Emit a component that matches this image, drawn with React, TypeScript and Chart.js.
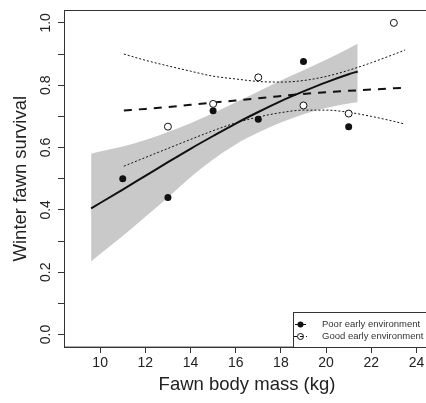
import { useEffect, useRef } from "react";
import { Chart, registerables } from "chart.js";

Chart.register(...registerables);

// ---- data ----
const X_TICKS = [10, 12, 14, 16, 18, 20, 22, 24];
const Y_TICKS = [0, 0.1, 0.2, 0.3, 0.4, 0.5, 0.6, 0.7, 0.8, 0.9, 1.0];
const Y_TICK_LABELS = ["0.0", "", "0.2", "", "0.4", "", "0.6", "", "0.8", "", "1.0"];

const POOR_MASS = [11, 13, 15, 17, 19, 21];
const POOR_SURV = [0.5, 0.44, 0.718, 0.691, 0.876, 0.667];
const GOOD_MASS = [13, 15, 17, 19, 21, 23];
const GOOD_SURV = [0.667, 0.74, 0.825, 0.735, 0.709, 1.0];

const POOR_FIT_MASS = [9.6, 10, 11, 12, 13, 14, 15, 16, 17, 18, 19, 20, 21, 21.4];
const POOR_FIT = [0.405, 0.422, 0.465, 0.509, 0.553, 0.596, 0.637, 0.677, 0.714, 0.749, 0.78, 0.809, 0.835, 0.844];
const POOR_UPPER = [0.58, 0.587, 0.603, 0.624, 0.65, 0.678, 0.71, 0.745, 0.78, 0.815, 0.848, 0.882, 0.918, 0.933];
const POOR_LOWER = [0.234, 0.258, 0.316, 0.378, 0.44, 0.505, 0.562, 0.61, 0.648, 0.68, 0.707, 0.727, 0.741, 0.745];

const GOOD_FIT_MASS = [11.05, 12, 13, 14, 15, 16, 17, 18, 19, 20, 21, 22, 23, 23.5];
const GOOD_FIT = [0.719, 0.724, 0.73, 0.737, 0.744, 0.751, 0.758, 0.765, 0.772, 0.777, 0.782, 0.786, 0.79, 0.792];
const GOOD_UPPER = [0.9, 0.88, 0.862, 0.845, 0.829, 0.82, 0.812, 0.81, 0.815, 0.828, 0.848, 0.872, 0.899, 0.913];
const GOOD_LOWER = [0.54, 0.568, 0.597, 0.626, 0.654, 0.679, 0.698, 0.712, 0.72, 0.72, 0.713, 0.7, 0.684, 0.675];

const LEGEND_LABELS = ["Poor early environment", "Good early environment"];
const X_TITLE = "Fawn body mass (kg)";
const Y_TITLE = "Winter fawn survival";

const pts = (xs: number[], ys: number[]) => xs.map((x, i) => ({ x, y: ys[i] }));

const FONT = "'Liberation Sans', Arial, Helvetica, sans-serif";
const AXIS_COLOR = "#333";
const TEXT_COLOR = "#222";

const framePlugin = {
  id: "frame",
  afterDatasetsDraw(chart: any) {
    const { ctx, chartArea: ca } = chart;
    ctx.save();
    ctx.strokeStyle = AXIS_COLOR;
    ctx.lineWidth = 1;
    ctx.strokeRect(Math.round(ca.left) + 0.5, Math.round(ca.top) + 0.5, ca.right - ca.left, ca.bottom - ca.top);
    ctx.restore();
  },
};

const legendPlugin = {
  id: "boxLegend",
  afterDraw(chart: any) {
    const { ctx, chartArea: ca } = chart;
    const w = 137;
    const h = 35;
    const x0 = Math.round(ca.right - w);
    const y0 = Math.round(ca.bottom - h);
    ctx.save();
    ctx.fillStyle = "#fff";
    ctx.fillRect(x0, y0, w, h);
    ctx.strokeStyle = AXIS_COLOR;
    ctx.lineWidth = 1;
    ctx.strokeRect(x0 + 0.5, y0 + 0.5, w, h);
    const rows = [y0 + 12.5, y0 + 24.5];
    const sx = x0 + 7.5;
    ctx.strokeStyle = "#111";
    ctx.beginPath();
    ctx.moveTo(x0 + 2, rows[0]);
    ctx.lineTo(x0 + 13, rows[0]);
    ctx.stroke();
    ctx.fillStyle = "#111";
    ctx.beginPath();
    ctx.arc(sx, rows[0], 3, 0, Math.PI * 2);
    ctx.fill();
    ctx.setLineDash([3, 3]);
    ctx.beginPath();
    ctx.moveTo(x0 + 1, rows[1]);
    ctx.lineTo(x0 + 14, rows[1]);
    ctx.stroke();
    ctx.setLineDash([]);
    ctx.beginPath();
    ctx.arc(sx, rows[1], 3, 0, Math.PI * 2);
    ctx.stroke();
    ctx.fillStyle = "#333";
    ctx.font = `9.5px ${FONT}`;
    ctx.textBaseline = "middle";
    ctx.textAlign = "left";
    LEGEND_LABELS.forEach((t, i) => ctx.fillText(t, x0 + 29, rows[i]));
    ctx.restore();
  },
};

export default function App() {
  const ref = useRef<HTMLCanvasElement | null>(null);
  useEffect(() => {
    if (!ref.current) return;
    Chart.defaults.font.family = FONT;
    const lineBase = { showLine: true, pointRadius: 0, fill: false, cubicInterpolationMode: "monotone" };
    const chart = new Chart(ref.current, {
      type: "scatter",
      data: {
        datasets: [
          {
            ...lineBase,
            label: "poorUpper",
            data: pts(POOR_FIT_MASS, POOR_UPPER),
            borderWidth: 0,
            borderColor: "rgba(0,0,0,0)",
            backgroundColor: "#c9c9c9",
            fill: "+1",
            order: 10,
          } as any,
          {
            ...lineBase,
            label: "poorLower",
            data: pts(POOR_FIT_MASS, POOR_LOWER),
            borderWidth: 0,
            borderColor: "rgba(0,0,0,0)",
            order: 9,
          } as any,
          {
            ...lineBase,
            label: "poorFit",
            data: pts(POOR_FIT_MASS, POOR_FIT),
            borderWidth: 2,
            borderColor: "#111",
            order: 5,
          } as any,
          {
            ...lineBase,
            label: "goodFit",
            data: pts(GOOD_FIT_MASS, GOOD_FIT),
            borderWidth: 2,
            borderColor: "#111",
            borderDash: [8, 7],
            order: 5,
          } as any,
          {
            ...lineBase,
            label: "goodUpper",
            data: pts(GOOD_FIT_MASS, GOOD_UPPER),
            borderWidth: 1,
            borderColor: "#111",
            borderDash: [2, 2],
            order: 5,
          } as any,
          {
            ...lineBase,
            label: "goodLower",
            data: pts(GOOD_FIT_MASS, GOOD_LOWER),
            borderWidth: 1,
            borderColor: "#111",
            borderDash: [2, 2],
            order: 5,
          } as any,
          {
            label: "poor",
            data: pts(POOR_MASS, POOR_SURV),
            showLine: false,
            pointRadius: 3.5,
            pointBackgroundColor: "#111",
            pointBorderColor: "#111",
            pointBorderWidth: 0,
            order: 2,
          } as any,
          {
            label: "good",
            data: pts(GOOD_MASS, GOOD_SURV),
            showLine: false,
            pointRadius: 3.5,
            pointBackgroundColor: "#fff",
            pointBorderColor: "#111",
            pointBorderWidth: 1,
            order: 1,
          } as any,
        ],
      },
      options: {
        animation: false,
        responsive: false,
        maintainAspectRatio: false,
        events: [],
        layout: { padding: { left: 0, top: 5, right: 10, bottom: 0 } },
        plugins: {
          legend: { display: false },
          tooltip: { enabled: false },
        },
        scales: {
          x: {
            type: "linear",
            min: 8.4,
            max: 24.6,
            afterBuildTicks: (s: any) => {
              s.ticks = X_TICKS.map((v) => ({ value: v }));
            },
            afterFit: (s: any) => {
              s.height = 56;
            },
            grid: {
              display: true,
              drawOnChartArea: false,
              drawTicks: true,
              tickLength: 6,
              tickColor: AXIS_COLOR,
            },
            border: { display: true, color: AXIS_COLOR, width: 1 },
            ticks: {
              color: TEXT_COLOR,
              font: { size: 14 },
              padding: 2,
              maxRotation: 0,
              minRotation: 0,
              autoSkip: false,
              callback: (v: any) => String(v),
            },
            title: {
              display: true,
              text: X_TITLE,
              color: TEXT_COLOR,
              font: { size: 18.5 },
              padding: { top: 0, bottom: 7 },
            },
          },
          y: {
            type: "linear",
            min: -0.04,
            max: 1.04,
            afterBuildTicks: (s: any) => {
              s.ticks = Y_TICKS.map((v) => ({ value: v }));
            },
            afterFit: (s: any) => {
              s.width = 64;
            },
            grid: {
              display: true,
              drawOnChartArea: false,
              drawTicks: true,
              tickLength: 6,
              tickColor: AXIS_COLOR,
            },
            border: { display: true, color: AXIS_COLOR, width: 1 },
            ticks: {
              color: TEXT_COLOR,
              font: { size: 14 },
              padding: 2,
              minRotation: 90,
              maxRotation: 90,
              crossAlign: "center",
              autoSkip: false,
              callback: (_v: any, i: number) => Y_TICK_LABELS[i],
            },
            title: {
              display: true,
              text: Y_TITLE,
              color: TEXT_COLOR,
              font: { size: 18.5 },
              padding: { top: 10, bottom: 0 },
            },
          },
        },
      },
      plugins: [framePlugin, legendPlugin],
    });
    return () => chart.destroy();
  }, []);

  return (
    <div style={{ position: "fixed", left: 0, top: 0, width: 426, height: 403, overflow: "hidden", background: "#fff" }}>
      <canvas ref={ref} width={440} height={403} style={{ display: "block", width: 440, height: 403 }} />
    </div>
  );
}
